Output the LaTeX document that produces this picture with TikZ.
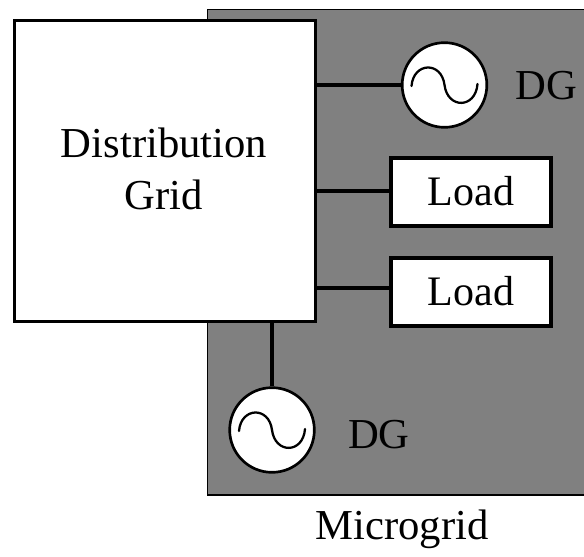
\documentclass[tikz,border=0pt]{standalone}
\usepackage{fontspec}
\setmainfont{Liberation Serif}
\definecolor{mg}{gray}{0.5}
\tikzset{
 box/.style={draw=black,line width=2.3pt,fill=white,inner sep=0pt,align=center,font=\fontsize{31.5}{38}\selectfont},
 src/.style={draw=black,line width=2pt,fill=white,circle,inner sep=0pt,minimum size=63.5pt},
 lbl/.style={inner sep=0pt,font=\fontsize{32}{38}\selectfont},
 wire/.style={line width=2.5pt},
 sine/.style={line width=1.7pt,line cap=round}
}
\begin{document}
\begin{tikzpicture}[x=0.75pt,y=-0.75pt]
\useasboundingbox (0,0) rectangle (584,556);
\fill[white] (0,0) rectangle (584,556);
\node[draw=black,line width=0.9pt,fill=mg,inner sep=0pt,anchor=north west,minimum width=283pt,minimum height=364pt] (micro) at (207,9) {};
\node[box,minimum width=225.5pt,minimum height=226pt,anchor=north west] (grid) at (13,19) {};
\node[align=center,inner sep=0pt,font=\fontsize{32}{38.5}\selectfont] (gridt) at (164,169) {Distribution\\Grid};
\node[src] (dg1) at (444.5,85) {};
\node[src] (dg2) at (272,430) {};
\node[box,minimum width=120pt,minimum height=51pt] (load1) at (471,192) {\raisebox{1.2pt}{Load}};
\node[box,minimum width=120pt,minimum height=51pt] (load2) at (471,292) {\raisebox{1.2pt}{Load}};
\node[lbl] (dg1t) at (546,86) {DG};
\node[lbl] (dg2t) at (379,435) {DG};
\node[lbl] (mt) at (402,529) {Microgrid};
\coordinate (a1) at (grid.east |- dg1);
\coordinate (a2) at (316,191);
\coordinate (a3) at (316,288);
\coordinate (a4) at (grid.south -| dg2);
\draw[wire] (a1) -- (dg1.west);
\draw[wire] (a2) -- (load1.west |- a2);
\draw[wire] (a3) -- (load2.west |- a3);
\draw[wire] (a4) -- (dg2.north);
\draw[sine,shift={(dg1.center)}] (-33,1) .. controls (-31,-23) and (-3,-24) .. (0,0) .. controls (3,24) and (31,24) .. (33,-1);
\draw[sine,shift={(dg2.center)}] (-33,1) .. controls (-31,-23) and (-3,-24) .. (0,0) .. controls (3,24) and (31,24) .. (33,-1);
\end{tikzpicture}
\end{document}
